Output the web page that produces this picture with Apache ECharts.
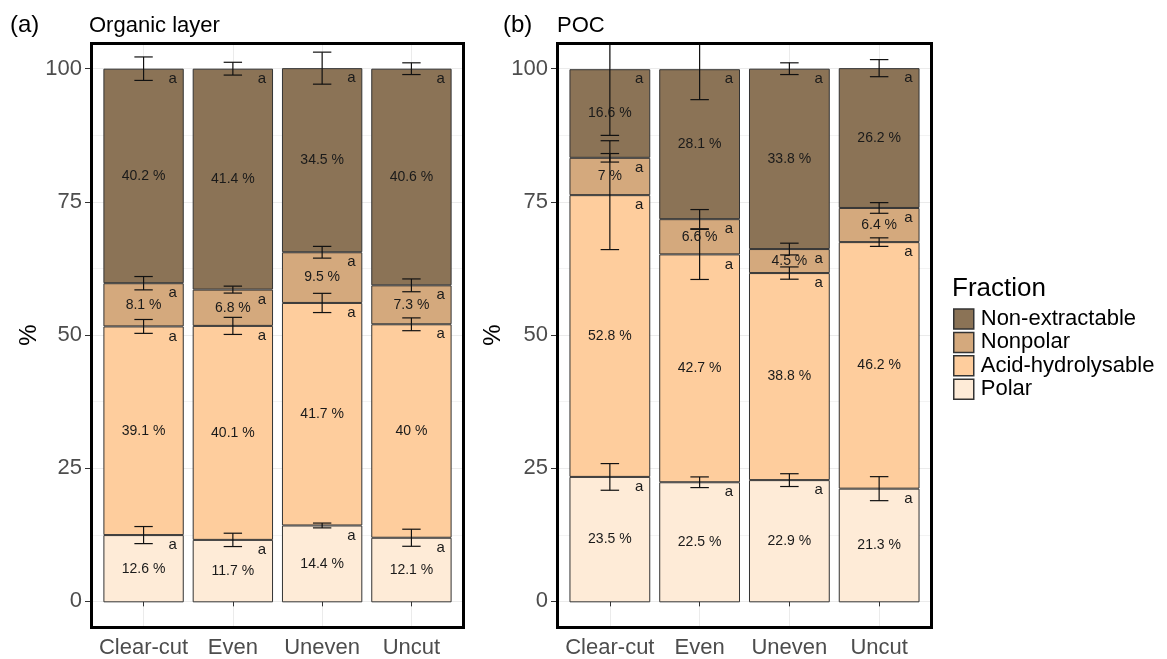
<!DOCTYPE html>
<html>
<head>
<meta charset="utf-8">
<title>Fractions of organic layer and POC</title>
<script src="https://cdn.jsdelivr.net/npm/echarts@6/dist/echarts.min.js"></script>
<style>
  html, body { margin: 0; padding: 0; background: #ffffff; }
  #chart { width: 1167px; height: 659px; }
</style>
</head>
<body>
<div id="chart"></div>
<script>
// Treatments on the x axis
const categories = ['Clear-cut', 'Even', 'Uneven', 'Uncut'];
// Fractions, bottom of the stack first
const fractions = ['Polar', 'Acid-hydrolysable', 'Nonpolar', 'Non-extractable'];
const legendOrder = ['Non-extractable', 'Nonpolar', 'Acid-hydrolysable', 'Polar'];
const yTicks = [0, 25, 50, 75, 100];
const yMinorTicks = [12.5, 37.5, 62.5, 87.5];

// (a) Organic layer, % of total
const orgPolar = [12.6, 11.7, 14.4, 12.1];
const orgAcid = [39.1, 40.1, 41.7, 40];
const orgNonpolar = [8.1, 6.8, 9.5, 7.3];
const orgNonext = [40.2, 41.4, 34.5, 40.6];
// standard deviations at the top of each segment
const orgPolarSd = [1.6, 1.25, 0.45, 1.6];
const orgAcidSd = [1.3, 1.6, 1.8, 1.2];
const orgNonpolarSd = [1.25, 0.65, 1.1, 1.2];
const orgNonextSd = [2.2, 1.2, 3.0, 1.1];

// (b) POC, % of total
const pocPolar = [23.5, 22.5, 22.9, 21.3];
const pocAcid = [52.8, 42.7, 38.8, 46.2];
const pocNonpolar = [7, 6.6, 4.5, 6.4];
const pocNonext = [16.6, 28.1, 33.8, 26.2];
const pocPolarSd = [2.5, 1.0, 1.2, 2.25];
const pocAcidSd = [10.2, 4.7, 1.15, 0.8];
const pocNonpolarSd = [0.8, 1.8, 1.1, 1.0];
const pocNonextSd = [12.4, 5.7, 1.1, 1.6];

// significance letters per segment (same for every group here)
const letters = ['a', 'a', 'a', 'a'];

const colors = {
  'Polar': '#feebd7',
  'Acid-hydrolysable': '#fecd9d',
  'Nonpolar': '#d4a97d',
  'Non-extractable': '#8b7356'
};

const FONT = '"Liberation Sans", Arial, sans-serif';
const Y_MIN = -5, Y_MAX = 105;

// panel geometry: outer box of each panel; x spans 0.4..4.6 category units
const panels = [
  { left: 90, width: 375, values: [orgPolar, orgAcid, orgNonpolar, orgNonext],
    sds: [orgPolarSd, orgAcidSd, orgNonpolarSd, orgNonextSd],
    tag: '(a)', tagX: 10, title: 'Organic layer', titleX: 89, stack: 'org', nameGap: 49 },
  { left: 556, width: 377, values: [pocPolar, pocAcid, pocNonpolar, pocNonext],
    sds: [pocPolarSd, pocAcidSd, pocNonpolarSd, pocNonextSd],
    tag: '(b)', tagX: 503, title: 'POC', titleX: 557, stack: 'poc', nameGap: 51 }
];
const TOP = 42, HEIGHT = 587;

const grid = [], xAxis = [], yAxis = [], series = [], graphic = [];

panels.forEach(function (p) {
  const unit = p.width / 4.2;
  const bgGrid = grid.length;
  grid.push({ left: p.left, top: TOP, width: p.width, height: HEIGHT, containLabel: false });
  const barGrid = grid.length;
  grid.push({ left: p.left + 0.1 * unit, top: TOP, width: 4 * unit, height: HEIGHT, containLabel: false });

  // background axes: ticks, labels and grid lines over the whole panel
  xAxis.push({
    type: 'value', gridIndex: bgGrid, min: 0.4, max: 4.6,
    axisLine: { show: false },
    axisTick: { show: true, customValues: [1, 2, 3, 4], length: 5, lineStyle: { color: '#333333', width: 1 } },
    axisLabel: { show: true, customValues: [1, 2, 3, 4], margin: 9,
      formatter: function (v) { return categories[Math.round(v) - 1]; },
      color: '#4d4d4d', fontSize: 22, fontFamily: FONT },
    splitLine: { show: true, lineStyle: { color: '#ebebeb', width: 1 } }
  });
  yAxis.push({
    type: 'value', gridIndex: bgGrid, min: Y_MIN, max: Y_MAX,
    name: '%', nameLocation: 'middle', nameGap: p.nameGap, nameRotate: 90,
    nameTextStyle: { color: '#000000', fontSize: 24, fontFamily: FONT },
    axisLine: { show: false },
    axisTick: { show: true, customValues: yTicks, length: 5, lineStyle: { color: '#333333', width: 1 } },
    axisLabel: { show: true, customValues: yTicks, margin: 8, color: '#4d4d4d', fontSize: 22, fontFamily: FONT },
    splitLine: { show: true, lineStyle: { color: '#ebebeb', width: 1 } }
  });
  yAxis.push({
    type: 'value', gridIndex: bgGrid, min: Y_MIN, max: Y_MAX,
    axisLine: { show: false },
    axisTick: { show: false, customValues: yMinorTicks },
    axisLabel: { show: false, customValues: yMinorTicks },
    splitLine: { show: true, lineStyle: { color: '#f3f3f3', width: 1 } }
  });

  // bar axes
  const barX = xAxis.length;
  xAxis.push({ type: 'category', gridIndex: barGrid, data: categories, show: false, boundaryGap: true });
  const barY = yAxis.length;
  yAxis.push({ type: 'value', gridIndex: barGrid, min: Y_MIN, max: Y_MAX, show: false, splitLine: { show: false } });

  // stacked bars
  fractions.forEach(function (name, fi) {
    series.push({
      name: name, type: 'bar', stack: p.stack, xAxisIndex: barX, yAxisIndex: barY,
      barWidth: '90%', barGap: '0%', z: 2,
      data: p.values[fi],
      itemStyle: { color: colors[name], borderColor: '#333333', borderWidth: 1 },
      label: { show: true, position: 'inside', formatter: '{c} %', color: '#1a1a1a', fontSize: 14, fontFamily: FONT },
      emphasis: { disabled: true }
    });
  });

  // error bars at the top of each segment, plus letters
  const errData = [];
  const errLetters = [];
  for (let c = 0; c < categories.length; c++) {
    let cum = 0;
    for (let fi = 0; fi < fractions.length; fi++) {
      cum += p.values[fi][c];
      errData.push([c, cum, p.sds[fi][c]]);
      errLetters.push(letters[c]);
    }
  }
  series.push({
    type: 'custom', xAxisIndex: barX, yAxisIndex: barY, z: 5, clip: true, silent: true,
    data: errData,
    renderItem: function (params, api) {
      const cat = api.value(0), mid = api.value(1), sd = api.value(2);
      const band = api.size([1, 0])[0];
      const hw = band * 0.103;
      const c = api.coord([cat, mid]);
      const hi = api.coord([cat, mid + sd]);
      const lo = api.coord([cat, mid - sd]);
      const st = { stroke: '#111111', lineWidth: 1.2 };
      return {
        type: 'group',
        children: [
          { type: 'line', shape: { x1: c[0], y1: hi[1], x2: c[0], y2: lo[1] }, style: st },
          { type: 'line', shape: { x1: c[0] - hw, y1: hi[1], x2: c[0] + hw, y2: hi[1] }, style: st },
          { type: 'line', shape: { x1: c[0] - hw, y1: lo[1], x2: c[0] + hw, y2: lo[1] }, style: st },
          { type: 'text', x: c[0] + band * 0.45 - 11, y: c[1] + 10,
            style: { text: errLetters[params.dataIndex], fill: '#1a1a1a', fontSize: 15, fontFamily: FONT,
              align: 'center', verticalAlign: 'middle' } }
        ]
      };
    }
  });

  // panel border
  graphic.push({
    type: 'rect', z: 100, silent: true,
    shape: { x: p.left + 1.5, y: TOP + 1.5, width: p.width - 3, height: HEIGHT - 3 },
    style: { fill: 'none', stroke: '#000000', lineWidth: 3 }
  });
  graphic.push({
    type: 'text', left: p.tagX, top: 13, z: 100,
    style: { text: p.tag, fontSize: 24, fontFamily: FONT, fill: '#000000' }
  });
  graphic.push({
    type: 'text', left: p.titleX, top: 15, z: 100,
    style: { text: p.title, fontSize: 22, fontFamily: FONT, fill: '#000000' }
  });
});

graphic.push({
  type: 'text', left: 952, top: 276, z: 100,
  style: { text: 'Fraction', fontSize: 26, fontFamily: FONT, fill: '#000000' }
});

const chart = echarts.init(document.getElementById('chart'), null, { renderer: 'canvas' });
chart.setOption({
  animation: false,
  backgroundColor: '#ffffff',
  grid: grid,
  xAxis: xAxis,
  yAxis: yAxis,
  legend: {
    data: legendOrder,
    orient: 'vertical',
    left: 953, top: 308, padding: 0,
    itemWidth: 20, itemHeight: 20, itemGap: 1.4,
    icon: 'rect',
    selectedMode: false,
    textStyle: { fontSize: 22, fontFamily: FONT, color: '#000000', lineHeight: 20, padding: [0, 0, 0, 2] },
    itemStyle: { borderColor: '#333333', borderWidth: 1.5 }
  },
  series: series,
  graphic: graphic
});
</script>
</body>
</html>
